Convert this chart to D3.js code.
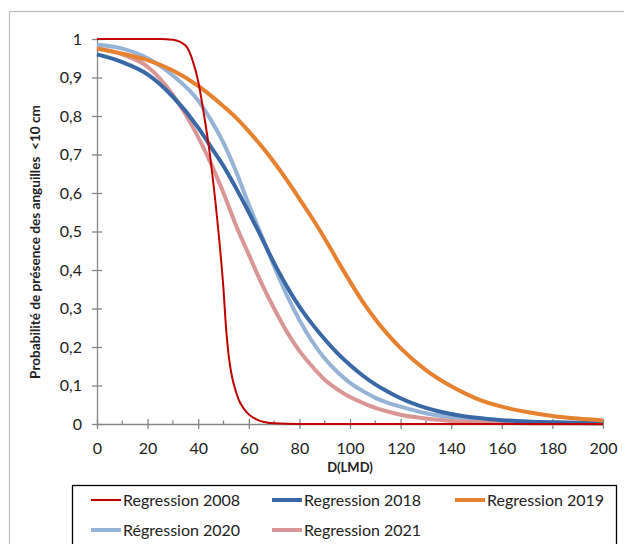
<!DOCTYPE html>
<html>
<head>
<meta charset="utf-8">
<script src="https://cdn.jsdelivr.net/npm/d3@7"></script>
<style>
  body { margin: 0; background: #fff; }
  svg { display: block; font-family: Lato, "Open Sans", sans-serif; }
</style>
</head>
<body>
<svg id="chart"></svg>
<script>
// distances (D) where the curves were read
var dGrid = [0, 10, 20, 30, 40, 45, 50, 55, 60, 65, 70, 75, 80, 85, 90, 95, 100, 105, 110, 115, 120, 130, 140, 150, 160, 170, 180, 190, 200];
var d2008 = [0, 10, 20, 25, 30, 35, 38, 40, 42, 44, 46, 48, 50, 51, 52, 53, 54, 56, 58, 60, 63, 66, 70, 80, 100, 150, 200];

var p2008 = [1, 1, 1, 1, 0.998, 0.983, 0.94, 0.89, 0.815, 0.73, 0.625, 0.5, 0.35, 0.25, 0.18, 0.135, 0.105, 0.063, 0.04, 0.025, 0.012, 0.005, 0.002, 0, 0, 0, 0];
var p2018 = [0.96, 0.94, 0.908, 0.85, 0.77, 0.72, 0.67, 0.612, 0.55, 0.485, 0.418, 0.358, 0.305, 0.26, 0.22, 0.184, 0.153, 0.126, 0.103, 0.084, 0.067, 0.042, 0.026, 0.016, 0.01, 0.0065, 0.0045, 0.003, 0.002];
var p2019 = [0.975, 0.962, 0.945, 0.918, 0.878, 0.853, 0.825, 0.795, 0.76, 0.722, 0.68, 0.634, 0.585, 0.535, 0.482, 0.425, 0.37, 0.318, 0.272, 0.232, 0.197, 0.14, 0.098, 0.066, 0.045, 0.031, 0.021, 0.014, 0.009];
var p2020 = [0.985, 0.975, 0.95, 0.905, 0.84, 0.79, 0.73, 0.655, 0.57, 0.49, 0.41, 0.335, 0.27, 0.215, 0.17, 0.135, 0.107, 0.086, 0.068, 0.055, 0.045, 0.028, 0.018, 0.012, 0.008, 0.005, 0.003, 0.002, 0.001];
var p2021 = [0.976, 0.96, 0.928, 0.855, 0.745, 0.677, 0.6, 0.515, 0.44, 0.366, 0.3, 0.24, 0.19, 0.15, 0.115, 0.09, 0.07, 0.055, 0.042, 0.032, 0.024, 0.014, 0.008, 0.005, 0.003, 0.002, 0.001, 0.001, 0.001];

var xTicks = [0, 20, 40, 60, 80, 100, 120, 140, 160, 180, 200];
var xMinor = [10, 30, 50, 70, 90, 110, 130, 150, 170, 190];
var yTicks = [0, 0.1, 0.2, 0.3, 0.4, 0.5, 0.6, 0.7, 0.8, 0.9, 1];

var series = [
    { name: "Regression 2008", xs: d2008, ys: p2008, color: "#C00000", width: 2 },
    { name: "Regression 2018", xs: dGrid, ys: p2018, color: "#3A68A6", width: 4 },
    { name: "Regression 2019", xs: dGrid, ys: p2019, color: "#E6812F", width: 4 },
    { name: "Régression 2020", xs: dGrid, ys: p2020, color: "#95B3D7", width: 4 },
    { name: "Regression 2021", xs: dGrid, ys: p2021, color: "#D99694", width: 4 }
];

var dimensions = { width: 624, height: 544 };
var svg = d3.select("#chart")
    .attr("width", dimensions.width)
    .attr("height", dimensions.height);

// outer chart frame (right and bottom go off the picture)
svg.append("rect")
    .attr("x", 9.5).attr("y", 11.5)
    .attr("width", 630).attr("height", 560)
    .attr("fill", "none")
    .attr("stroke", "#BFBFBF")
    .attr("stroke-width", 1.2);

var xScale = d3.scaleLinear().domain([0, 200]).range([97, 603]);
var yScale = d3.scaleLinear().domain([0, 1]).range([424, 39]);

var axisColor = "#868686";
var fmt = function(d) {
    if (d === 0 || d === 1) return String(d);
    return d3.format(".1f")(d).replace(".", ",");
};

// y axis
var yAxis = svg.append("g")
    .attr("transform", "translate(" + xScale(0) + ",0)")
    .call(d3.axisLeft(yScale).tickValues(yTicks).tickFormat(fmt).tickSizeOuter(0).tickSizeInner(5).tickPadding(10));
yAxis.select(".domain").attr("stroke", axisColor).attr("stroke-width", 1.3);
yAxis.selectAll(".tick line").attr("stroke", axisColor).attr("x2", 5).attr("x1", -5).attr("stroke-width", 1.3);
yAxis.selectAll(".tick text").attr("font-size", 16).attr("fill", "#222").attr("font-family", "Lato, sans-serif");

// x axis
var xAxis = svg.append("g")
    .attr("transform", "translate(0," + yScale(0) + ")")
    .call(d3.axisBottom(xScale).tickValues(xTicks).tickFormat(d3.format("d")).tickSizeOuter(0).tickSizeInner(5).tickPadding(14));
xAxis.select(".domain").attr("stroke", axisColor).attr("stroke-width", 1.3);
xAxis.selectAll(".tick line").attr("stroke", axisColor).attr("y1", -5).attr("y2", 5).attr("stroke-width", 1.3);
xAxis.selectAll(".tick text").attr("font-size", 16).attr("fill", "#222").attr("font-family", "Lato, sans-serif");

xAxis.selectAll(".minor")
    .data(xMinor)
    .enter()
    .append("line")
    .attr("class", "minor")
    .attr("x1", d => xScale(d)).attr("x2", d => xScale(d))
    .attr("y1", -3.5).attr("y2", 0)
    .attr("stroke", axisColor)
    .attr("stroke-width", 1.3);

// axis titles
svg.append("text")
    .attr("x", 350).attr("y", 472)
    .attr("text-anchor", "middle")
    .attr("font-size", 13).attr("font-weight", "bold")
    .attr("fill", "#222")
    .text("D(LMD)");

svg.append("text")
    .attr("transform", "translate(40,242) rotate(-90)")
    .attr("text-anchor", "middle")
    .attr("font-size", 13.6).attr("font-weight", "bold")
    .attr("fill", "#222")
    .attr("xml:space", "preserve")
    .text("Probabilité de présence des anguilles  <10 cm");

// curves
var line = d3.line()
    .x(d => xScale(d[0]))
    .y(d => yScale(d[1]))
    .curve(d3.curveMonotoneX);

var drawOrder = [3, 4, 1, 2, 0];
drawOrder.forEach(function(i) {
    var s = series[i];
    var pts = s.xs.map((x, j) => [x, s.ys[j]]);
    svg.append("path")
        .datum(pts)
        .attr("d", line)
        .attr("fill", "none")
        .attr("stroke", s.color)
        .attr("stroke-width", s.width)
        .attr("stroke-linejoin", "round");
});

// legend
svg.append("rect")
    .attr("x", 72.5).attr("y", 485.5)
    .attr("width", 544).attr("height", 70)
    .attr("fill", "#fff")
    .attr("stroke", "#000")
    .attr("stroke-width", 1.3);

var legendPos = [
    { x: 91, y: 500 },
    { x: 272, y: 500 },
    { x: 455, y: 500 },
    { x: 91, y: 530 },
    { x: 272, y: 530 }
];

series.forEach(function(s, i) {
    var p = legendPos[i];
    var g = svg.append("g").attr("transform", "translate(" + p.x + "," + p.y + ")");
    g.append("line")
        .attr("x1", 0).attr("x2", 30)
        .attr("stroke", s.color)
        .attr("stroke-width", s.width);
    g.append("text")
        .attr("x", 32).attr("y", 0)
        .attr("dy", "0.35em")
        .attr("font-size", 16)
        .attr("fill", "#222")
        .text(s.name);
});
</script>
</body>
</html>
